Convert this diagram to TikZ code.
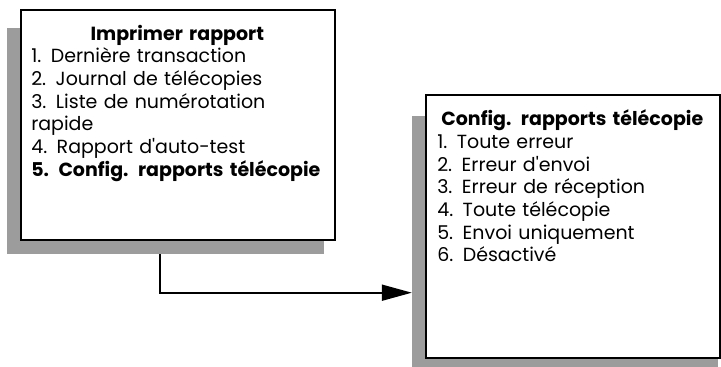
\documentclass[tikz,border=0pt]{standalone}
\usepackage{fontspec}
\setmainfont{Poppins}
\usetikzlibrary{arrows.meta, positioning, calc}
\definecolor{ombregris}{HTML}{9C9C9C}

\begin{document}
\begin{tikzpicture}[
    x=1pt, y=1pt,
    ombre/.style={rectangle, fill=ombregris, inner sep=0pt},
    ecran/.style={rectangle, draw=black, fill=white, line width=1.8pt, inner sep=0pt},
    liste/.style={text width=#1, align=left, inner sep=0pt, font=\fontsize{19}{22.7}\selectfont},
    fleche/.style={-{Triangle[length=30pt, width=16pt]}, line width=1.8pt}
]
\useasboundingbox (0,0) rectangle (721,367);

\node[ombre, minimum width=317pt, minimum height=226pt] (menuombre) at (165.5,226) {};
\node[ombre, minimum width=306pt, minimum height=256pt] (configombre) at (565,123) {};
\node[ecran, minimum width=314pt, minimum height=230pt] (menu) at (178,242) {};
\node[ecran, minimum width=294pt, minimum height=263pt] (config) at (573,140.5) {};

\node[liste=292pt, below right=15.5pt and 11pt of menu.north west] (menutexte) {%
    \makebox[\linewidth]{\bfseries Imprimer rapport}\\
    1. Dernière transaction\\
    2. Journal de télécopies\\
    3. Liste de numérotation\\
    rapide\\
    4. Rapport d\textquotesingle auto-test\\
    \textbf{5. Config. rapports télécopie}};
\node[liste=270pt, below right=15.5pt and 12pt of config.north west] (configtexte) {%
    \makebox[\linewidth]{\bfseries Config. rapports télécopie}\\
    1. Toute erreur\\
    2. Erreur d\textquotesingle envoi\\
    3. Erreur de réception\\
    4. Toute télécopie\\
    5. Envoi uniquement\\
    6. Désactivé};

\draw[fleche] ([xshift=-5.5pt]menuombre.south) |- ([yshift=-48.7pt]configombre.west);
\end{tikzpicture}
\end{document}
